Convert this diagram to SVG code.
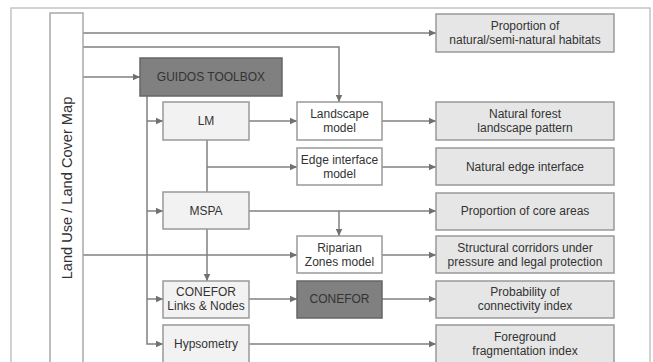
<svg xmlns="http://www.w3.org/2000/svg" width="653" height="362" viewBox="0 0 653 362">
<defs>
<style>
text{font-family:"Liberation Sans",Arial,sans-serif;font-size:12px;fill:#333;text-anchor:middle}
.frame{fill:none;stroke:#c4c4c4;stroke-width:1.5}
.src{fill:#fff;stroke:#a8a8a8;stroke-width:1.5}
.tool{fill:#f2f2f2;stroke:#999;stroke-width:1.5}
.model{fill:#fff;stroke:#999;stroke-width:1.5}
.dark{fill:#808080;stroke:#666;stroke-width:1.5}
.out{fill:#e6e6e6;stroke:#999;stroke-width:1.5}
.c{fill:none;stroke:#808080;stroke-width:1.5}
.a{marker-end:url(#arr)}
</style>
<marker id="arr" markerWidth="8" markerHeight="8" refX="7.5" refY="4" orient="auto" markerUnits="userSpaceOnUse">
<path d="M0,0.5 L7.5,4 L0,7.5 Z" fill="#707070"/>
</marker>
</defs>
<rect width="653" height="362" fill="#fff"/>
<rect class="frame" x="11" y="8" width="639" height="370"/>
<g id="connectors">
<path class="c a" d="M83,33 H436"/>
<path class="c a" d="M83,47 H339 V102"/>
<path class="c a" d="M83,77 H140"/>
<path class="c a" d="M147,96 V344 H163"/>
<path class="c a" d="M147,121 H163"/>
<path class="c a" d="M147,211 H163"/>
<path class="c a" d="M147,299 H163"/>
<path class="c a" d="M249,121 H297"/>
<path class="c a" d="M382,121 H436"/>
<path class="c" d="M207,140 V192"/>
<path class="c a" d="M207,167 H297"/>
<path class="c a" d="M382,167 H436"/>
<path class="c a" d="M249,211 H436"/>
<path class="c a" d="M339,211 V236"/>
<path class="c a" d="M207,229 V281"/>
<path class="c a" d="M83,255 H297"/>
<path class="c a" d="M382,255 H436"/>
<path class="c a" d="M249,299 H297"/>
<path class="c a" d="M382,299 H436"/>
<path class="c a" d="M249,344 H436"/>
</g>
<g id="landuse">
<rect class="src" x="50" y="13" width="33" height="370"/>
<text transform="translate(72,188) rotate(-90)" style="font-size:14.6px">Land Use / Land Cover Map</text>
</g>
<g id="guidos">
<rect class="dark" x="140" y="58" width="142" height="38"/>
<text x="211" y="81">GUIDOS TOOLBOX</text>
</g>
<g id="lm">
<rect class="tool" x="163" y="102" width="86" height="38"/>
<text x="206" y="125">LM</text>
</g>
<g id="mspa">
<rect class="tool" x="163" y="192" width="86" height="37"/>
<text x="206" y="215">MSPA</text>
</g>
<g id="conefor-links">
<rect class="tool" x="163" y="281" width="86" height="37"/>
<text x="206" y="296">CONEFOR</text>
<text x="206" y="310">Links &amp; Nodes</text>
</g>
<g id="hypsometry">
<rect class="tool" x="163" y="325" width="86" height="42"/>
<text x="206" y="348">Hypsometry</text>
</g>
<g id="landscape-model">
<rect class="model" x="297" y="102" width="85" height="38"/>
<text x="339.5" y="118">Landscape</text>
<text x="339.5" y="132">model</text>
</g>
<g id="edge-model">
<rect class="model" x="297" y="148" width="85" height="37"/>
<text x="339.5" y="164">Edge interface</text>
<text x="339.5" y="178">model</text>
</g>
<g id="riparian">
<rect class="model" x="297" y="236" width="85" height="37"/>
<text x="339.5" y="252">Riparian</text>
<text x="339.5" y="266">Zones model</text>
</g>
<g id="conefor">
<rect class="dark" x="297" y="281" width="85" height="37"/>
<text x="339.5" y="303">CONEFOR</text>
</g>
<g id="out-habitats">
<rect class="out" x="436" y="14" width="178" height="38"/>
<text x="525" y="30">Proportion of</text>
<text x="525" y="44">natural/semi-natural habitats</text>
</g>
<g id="out-forest">
<rect class="out" x="436" y="102" width="178" height="38"/>
<text x="525" y="118">Natural forest</text>
<text x="525" y="132">landscape pattern</text>
</g>
<g id="out-edge">
<rect class="out" x="436" y="148" width="178" height="37"/>
<text x="525" y="171">Natural edge interface</text>
</g>
<g id="out-core">
<rect class="out" x="436" y="193" width="178" height="37"/>
<text x="525" y="215">Proportion of core areas</text>
</g>
<g id="out-corridors">
<rect class="out" x="436" y="236" width="178" height="37"/>
<text x="525" y="252">Structural corridors under</text>
<text x="525" y="266">pressure and legal protection</text>
</g>
<g id="out-connectivity">
<rect class="out" x="436" y="281" width="178" height="37"/>
<text x="525" y="296">Probability of</text>
<text x="525" y="310">connectivity index</text>
</g>
<g id="out-fragmentation">
<rect class="out" x="436" y="325" width="178" height="42"/>
<text x="525" y="341">Foreground</text>
<text x="525" y="355">fragmentation index</text>
</g>
</svg>
